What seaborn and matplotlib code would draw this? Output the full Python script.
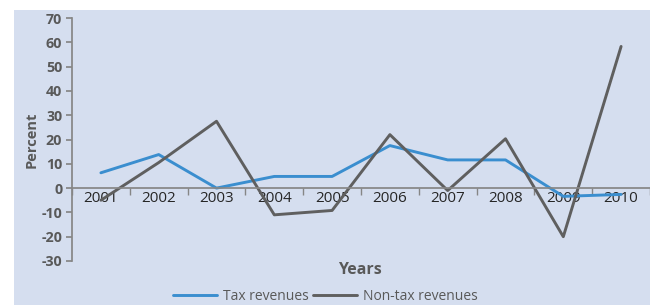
import matplotlib
matplotlib.use("Agg")
import matplotlib.pyplot as plt
import seaborn as sns
import pandas as pd
from matplotlib.patches import Rectangle

years = [2001, 2002, 2003, 2004, 2005, 2006, 2007, 2008, 2009, 2010]
tax_revenues = [6.3, 13.8, 0.0, 4.8, 4.8, 17.5, 11.6, 11.6, -3.4, -2.6]
non_tax_revenues = [-5.0, 10.5, 27.5, -11.0, -9.2, 22.0, -1.0, 20.3, -20.0, 58.3]
series_names = ["Tax revenues", "Non-tax revenues"]
y_ticks = [-30, -20, -10, 0, 10, 20, 30, 40, 50, 60, 70]

df = pd.DataFrame({
    "Year": years * 2,
    "Value": tax_revenues + non_tax_revenues,
    "Series": [series_names[0]] * len(years) + [series_names[1]] * len(years),
})

sns.set_theme(style="white")
plt.rcParams['font.family'] = ['Open Sans', 'DejaVu Sans']

bg = "#D5DEEF"
gray = "#595959"
fig = plt.figure(figsize=(6.5, 3.05), dpi=100)
fig.patch.set_facecolor("white")
fig.patches.append(Rectangle((14/650, 0), 1 - 14/650, 1 - 10/305, transform=fig.transFigure,
                             facecolor=bg, edgecolor="none", zorder=-10))

ax = fig.add_axes([72/650, 1 - 261/305, 1 - 72/650, (261 - 18)/305])
ax.patch.set_alpha(0)

sns.lineplot(data=df, x="Year", y="Value", hue="Series",
             palette={series_names[0]: "#3A8ECF", series_names[1]: "#5F5F5F"},
             linewidth=2.1, ax=ax, legend=True)

tick_font = dict(fontweight="bold", color=gray, fontsize=10.3)
ax.set_ylim(-30, 70)
ax.set_xlim(2000.5, 2010.5)
ax.set_yticks(y_ticks)
ax.set_yticklabels([str(v) for v in y_ticks], **tick_font)
ax.set_xticks(years)
ax.set_xticklabels([str(y) for y in years], **tick_font)
ax.set_xticks([y + 0.5 for y in [2000] + years], minor=True)

for s in ["top", "right"]:
    ax.spines[s].set_visible(False)
ax.spines["left"].set_color("#868686")
ax.spines["bottom"].set_color("#868686")
ax.spines["bottom"].set_position(("data", 0))
ax.tick_params(axis="y", which="major", length=4, color="#868686", direction="out", pad=3, left=True)
ax.tick_params(axis="x", which="major", length=0, pad=2)
ax.tick_params(axis="x", which="minor", length=5, color="#868686", direction="out", bottom=True)

ax.set_ylabel("Percent", fontweight="bold", color=gray, fontsize=10.5, labelpad=2)
ax.set_xlabel("")
fig.text(360/650, 1 - 270/305, "Years", ha="center", va="center",
         fontweight="bold", color=gray, fontsize=11.5)

handles, labels = ax.get_legend_handles_labels()
ax.get_legend().remove()
fig.legend(handles, labels, loc="center", bbox_to_anchor=(325/650, 1 - 296/305),
           ncol=2, frameon=False, fontsize=10, handlelength=3.2, columnspacing=0.3,
           handletextpad=0.4, labelcolor=gray, borderaxespad=0, borderpad=0)

fig.savefig("out.png", dpi=100)
